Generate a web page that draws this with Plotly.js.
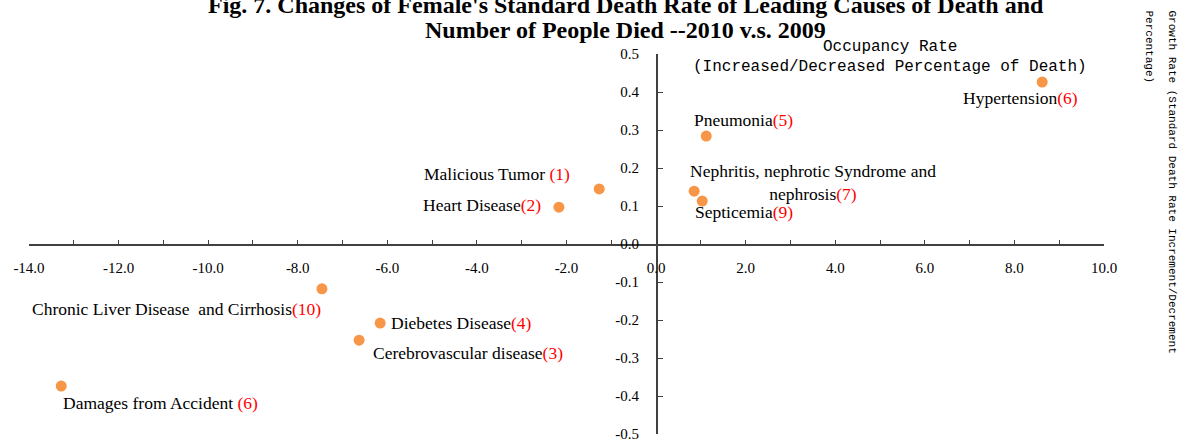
<!DOCTYPE html>
<html>
<head>
<meta charset="utf-8">
<script src="https://cdn.plot.ly/plotly-3.0.1.min.js"></script>
<style>html,body{margin:0;padding:0;background:#fff;}#chart{width:1185px;height:439px;}</style>
</head>
<body>
<div id="chart"></div>
<script>
// Data
const causes = ["Malicious Tumor", "Heart Disease", "Nephritis, nephrotic Syndrome and nephrosis", "Septicemia", "Pneumonia", "Hypertension", "Chronic Liver Disease  and Cirrhosis", "Diebetes Disease", "Cerebrovascular disease", "Damages from Accident"];
const ranks = ["(1)", "(2)", "(7)", "(9)", "(5)", "(6)", "(10)", "(4)", "(3)", "(6)"];
const occupancyRate = [-1.27, -2.17, 0.85, 1.03, 1.12, 8.62, -7.46, -6.16, -6.63, -13.28];
const growthRate = [0.145, 0.097, 0.139, 0.113, 0.284, 0.426, -0.118, -0.208, -0.253, -0.374];
const xTickVals = [-14, -12, -10, -8, -6, -4, -2, 0, 2, 4, 6, 8, 10];
const xTickText = ["-14.0", "-12.0", "-10.0", "-8.0", "-6.0", "-4.0", "-2.0", "0.0", "2.0", "4.0", "6.0", "8.0", "10.0"];
const xMinorVals = [-13, -11, -9, -7, -5, -3, -1, 1, 3, 5, 7, 9];
const yTickVals = [-0.5, -0.4, -0.3, -0.2, -0.1, 0, 0.1, 0.2, 0.3, 0.4, 0.5];
const yTickText = ["-0.5", "-0.4", "-0.3", "-0.2", "-0.1", "0.0", "0.1", "0.2", "0.3", "0.4", "0.5"];

// label display (text lines and placement offsets in px)
const labelLines = [
  "Malicious Tumor ", "Heart Disease", "Nephritis, nephrotic Syndrome and<br>nephrosis", "Septicemia", "Pneumonia",
  "Hypertension", "Chronic Liver Disease  and Cirrhosis", "Diebetes Disease", "Cerebrovascular disease", "Damages from Accident "
];
const labelPlace = [
  {xa: "right", dx: -27, dy: 15},
  {xa: "right", dx: -16, dy: 2},
  {xa: "center", dx: 119, dy: 9},
  {xa: "left", dx: -9, dy: -11},
  {xa: "left", dx: -14, dy: 16},
  {xa: "left", dx: -81, dy: -16},
  {xa: "right", dx: 1, dy: -20},
  {xa: "left", dx: 9, dy: 0},
  {xa: "left", dx: 12, dy: -13},
  {xa: "left", dx: 0, dy: -17}
];

const trace = {
  x: occupancyRate,
  y: growthRate,
  mode: "markers",
  type: "scatter",
  marker: {color: "#F79646", size: 11, line: {width: 0}},
  hoverinfo: "x+y",
  cliponaxis: false
};

const labelFont = {family: "Liberation Serif, Times New Roman, serif", size: 17.5, color: "#000"};
const annotations = causes.map((c, i) => ({
  x: occupancyRate[i], y: growthRate[i], xref: "x", yref: "y",
  text: labelLines[i] + '<span style="color:#ff0000">' + ranks[i] + '</span>',
  showarrow: false, xanchor: labelPlace[i].xa, yanchor: "middle",
  xshift: labelPlace[i].dx, yshift: labelPlace[i].dy,
  align: "center", font: labelFont
}));

const titleFont = {family: "Liberation Serif, Times New Roman, serif", size: 24, color: "#000", weight: "bold"};
annotations.push(
  {xref: "paper", yref: "paper", x: 0.5553, y: (434 - 5) / 380, text: "<b>Fig. 7. Changes of Female's Standard Death Rate of Leading Causes of Death and</b>", showarrow: false, xanchor: "center", yanchor: "middle", font: titleFont},
  {xref: "paper", yref: "paper", x: 0.5553, y: (434 - 30) / 380, text: "<b>Number of People Died --2010 v.s. 2009</b>", showarrow: false, xanchor: "center", yanchor: "middle", font: titleFont}
);
const monoFont = {family: "Liberation Mono, DejaVu Sans Mono, monospace", size: 16, color: "#000"};
annotations.push(
  {xref: "paper", yref: "paper", x: 0.801, y: (434 - 47) / 380, text: "Occupancy Rate", showarrow: false, xanchor: "center", yanchor: "middle", font: monoFont},
  {xref: "paper", yref: "paper", x: 0.801, y: (434 - 67) / 380, text: "(Increased/Decreased Percentage of Death)", showarrow: false, xanchor: "center", yanchor: "middle", font: monoFont}
);
const sideFont = {family: "Liberation Mono, DejaVu Sans Mono, monospace", size: 11, color: "#000"};
annotations.push(
  {xref: "paper", yref: "paper", x: (1172 - 29) / 1075, y: (434 - 8) / 380, text: "Growth Rate (Standard Death Rate Increment/Decrement", showarrow: false, textangle: 90, xanchor: "center", yanchor: "top", font: sideFont},
  {xref: "paper", yref: "paper", x: (1149 - 29) / 1075, y: (434 - 8) / 380, text: "Percentage)", showarrow: false, textangle: 90, xanchor: "center", yanchor: "top", font: sideFont}
);

const tickFont = {family: "Liberation Serif, Times New Roman, serif", size: 15, color: "#000"};
const layout = {
  width: 1185, height: 439,
  margin: {l: 29, r: 81, t: 54, b: 5},
  paper_bgcolor: "#fff", plot_bgcolor: "#fff",
  showlegend: false,
  xaxis: {
    range: [-14, 10], domain: [0, 1], anchor: "free", position: 0.5,
    showgrid: false, zeroline: false, showline: true, linecolor: "#404040", linewidth: 1.5,
    tickvals: xTickVals, ticktext: xTickText, ticks: "inside", ticklen: 4, tickwidth: 1, tickcolor: "#404040",
    minor: {tickvals: xMinorVals, ticks: "inside", ticklen: 4, tickcolor: "#404040"},
    ticklabelstandoff: 9, ticklabeloverflow: "allow", tickfont: tickFont
  },
  yaxis: {
    range: [-0.5, 0.5], domain: [0, 1], anchor: "free", position: 14 / 24,
    showgrid: false, zeroline: false, showline: true, linecolor: "#404040", linewidth: 1.5,
    tickvals: yTickVals, ticktext: yTickText, ticks: "inside", ticklen: 5, tickwidth: 1, tickcolor: "#404040",
    ticklabelstandoff: 14, ticklabeloverflow: "allow", tickfont: tickFont
  },
  annotations: annotations
};

Plotly.newPlot("chart", [trace], layout, {displayModeBar: false, staticPlot: true});
</script>
</body>
</html>
